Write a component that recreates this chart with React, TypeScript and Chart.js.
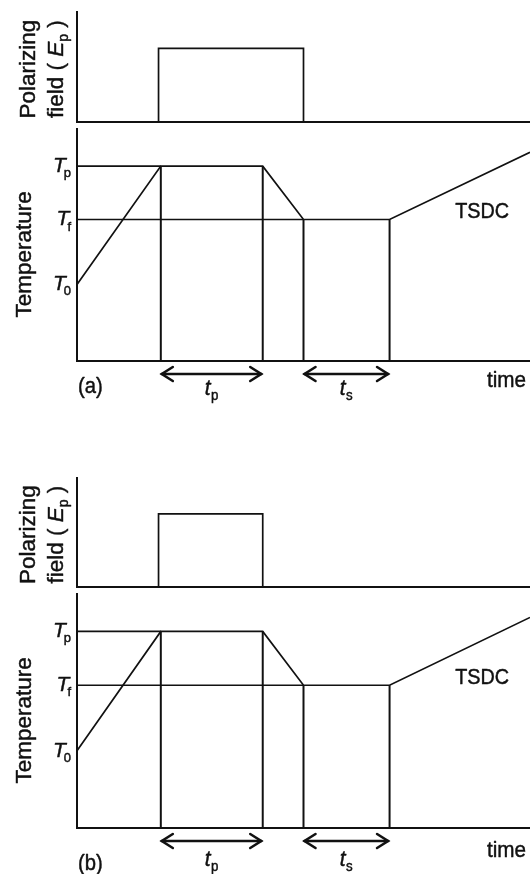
import React, { useEffect, useRef } from "react";
import { Chart, registerables } from "chart.js";

Chart.register(...registerables);

// Time axis in arbitrary units
const timeRange = [0, 100];
// Temperature programme: heat to Tp, hold, cool to Tf, hold, then TSDC heating ramp
const profileTimes = [0, 18.5, 41, 50, 69, 100];
const profileTemps = [33, 84, 84, 61, 61, 90];
// Levels labelled on the temperature axis
const tempLevels = [84, 61, 33];
const tempLevelSubs = ["p", "f", "0"];
// Horizontal guide lines drawn from the axis at Tp and Tf
const guideLevels = [84, 61];
const guideEnds = [18.5, 50];
// Instants marked by vertical drop lines
const dropTimes = [18.5, 41, 50, 69];
const dropTemps = [84, 84, 61, 61];
// Polarizing field pulse, figure (a) and figure (b)
const fieldTimesA = [18, 18, 50, 50];
const fieldTimesB = [18, 18, 41, 41];
const fieldValues = [0, 67, 67, 0];
// Interval arrows under the time axis
const intervalStarts = [18.5, 50];
const intervalEnds = [41, 69];
const intervalSubs = ["p", "s"];

const FONT = '"Liberation Sans", Arial, Helvetica, sans-serif';
const INK = "#111";

type Part = { t: string; it?: boolean; sub?: boolean; dx?: number };

function drawRich(
  ctx: CanvasRenderingContext2D,
  parts: Part[],
  x: number,
  y: number,
  size: number,
  align: "left" | "right" | "center",
  sx = 1,
  subSize = Math.round(size * 0.64)
) {
  const fontOf = (p: Part) =>
    `${p.it ? "italic " : ""}${p.sub ? subSize : size}px ${FONT}`;
  let w = 0;
  const widths = parts.map((p) => {
    ctx.font = fontOf(p);
    const m = ctx.measureText(p.t).width + (p.dx || 0);
    w += m;
    return m;
  });
  ctx.save();
  ctx.translate(x, y);
  ctx.scale(sx, 1);
  ctx.fillStyle = INK;
  ctx.strokeStyle = INK;
  ctx.lineWidth = 0.45;
  ctx.lineJoin = "round";
  ctx.textAlign = "left";
  ctx.textBaseline = "alphabetic";
  let cx = align === "left" ? 0 : align === "right" ? -w : -w / 2;
  parts.forEach((p, i) => {
    ctx.font = fontOf(p);
    const tx = cx + (p.dx || 0);
    const ty = p.sub ? size * 0.24 : 0;
    ctx.fillText(p.t, tx, ty);
    ctx.strokeText(p.t, tx, ty);
    cx += widths[i];
  });
  ctx.restore();
}

function drawRotated(
  ctx: CanvasRenderingContext2D,
  parts: Part[],
  baselineX: number,
  centerY: number,
  size: number
) {
  ctx.save();
  ctx.translate(baselineX, centerY);
  ctx.rotate(-Math.PI / 2);
  drawRich(ctx, parts, 0, 0, size, "center");
  ctx.restore();
}

function drawDoubleArrow(ctx: CanvasRenderingContext2D, x1: number, x2: number, y: number) {
  const head = 11;
  const half = 7;
  ctx.save();
  ctx.strokeStyle = INK;
  ctx.lineWidth = 2.6;
  ctx.lineCap = "round";
  ctx.lineJoin = "miter";
  ctx.beginPath();
  ctx.moveTo(x1, y);
  ctx.lineTo(x2, y);
  ctx.stroke();
  ctx.beginPath();
  ctx.moveTo(x1 + head, y - half);
  ctx.lineTo(x1, y);
  ctx.lineTo(x1 + head, y + half);
  ctx.moveTo(x2 - head, y - half);
  ctx.lineTo(x2, y);
  ctx.lineTo(x2 - head, y + half);
  ctx.stroke();
  ctx.restore();
}

type Panel = {
  kind: "field" | "temp";
  fig: string;
  top: number;
  height: number;
  padTop: number;
  xAxisH: number;
  fieldTimes?: number[];
  arrowY?: number;
  subBase?: number;
  timeBase?: number;
  figBase?: number;
};

const PANELS: Panel[] = [
  { kind: "field", fig: "a", top: 0, height: 130, padTop: 12, xAxisH: 8, fieldTimes: fieldTimesA },
  { kind: "temp", fig: "a", top: 122, height: 300, padTop: 7, xAxisH: 61, arrowY: 13, subBase: 34, timeBase: 26, figBase: 32 },
  { kind: "field", fig: "b", top: 466, height: 129, padTop: 12, xAxisH: 8, fieldTimes: fieldTimesB },
  { kind: "temp", fig: "b", top: 587, height: 287, padTop: 7, xAxisH: 46, arrowY: 13, subBase: 38, timeBase: 29, figBase: 42 },
];

const lineStyle = {
  showLine: true,
  borderColor: INK,
  borderWidth: 1.7,
  pointRadius: 0,
  fill: false,
  tension: 0,
};

function buildChart(canvas: HTMLCanvasElement, p: Panel) {
  const datasets: any[] = [];
  if (p.kind === "field") {
    const times = p.fieldTimes || [];
    datasets.push({
      ...lineStyle,
      data: times.map((t, i) => ({ x: t, y: fieldValues[i] })),
    });
  } else {
    datasets.push({
      ...lineStyle,
      data: profileTimes.map((t, i) => ({ x: t, y: profileTemps[i] })),
    });
    guideLevels.forEach((lvl, i) => {
      datasets.push({
        ...lineStyle,
        data: [
          { x: timeRange[0], y: lvl },
          { x: guideEnds[i], y: lvl },
        ],
      });
    });
    dropTimes.forEach((t, i) => {
      datasets.push({
        ...lineStyle,
        borderWidth: 2,
        data: [
          { x: t, y: 0 },
          { x: t, y: dropTemps[i] },
        ],
      });
    });
  }

  const labels = {
    id: "figureLabels",
    afterDraw(chart: any) {
      const ctx: CanvasRenderingContext2D = chart.ctx;
      const area = chart.chartArea;
      const xs = chart.scales.x;
      const ys = chart.scales.y;
      if (p.kind === "field") {
        const cy = ys.getPixelForValue(48);
        drawRotated(ctx, [{ t: "Polarizing" }], 35, cy, 22.5);
        drawRotated(
          ctx,
          [{ t: "field ( " }, { t: "E", it: true }, { t: "p", sub: true }, { t: " )" }],
          63,
          cy,
          22.5
        );
        return;
      }
      drawRotated(ctx, [{ t: "Temperature" }], 31, ys.getPixelForValue(46), 22.5);

      tempLevels.forEach((lvl, i) => {
        drawRich(
          ctx,
          [{ t: "T", it: true }, { t: tempLevelSubs[i], sub: true, dx: -2 }],
          71,
          ys.getPixelForValue(lvl) + 6,
          21,
          "right",
          1,
          13
        );
      });

      drawRich(ctx, [{ t: "TSDC" }], xs.getPixelForValue(83.5), ys.getPixelForValue(61.5), 22, "left", 0.9);

      const ay = area.bottom + (p.arrowY || 0);
      intervalStarts.forEach((s, i) => {
        const x1 = xs.getPixelForValue(s) + 1;
        const x2 = xs.getPixelForValue(intervalEnds[i]) - 1.5;
        drawDoubleArrow(ctx, x1, x2, ay);
        drawRich(
          ctx,
          [{ t: "t", it: true }, { t: intervalSubs[i], sub: true, dx: 0.5 }],
          (x1 + x2) / 2,
          area.bottom + (p.subBase || 0),
          22,
          "center",
          0.95,
          14
        );
      });

      drawRich(ctx, [{ t: "time" }], area.right - 43, area.bottom + (p.timeBase || 0), 22.5, "left", 0.92);
      drawRich(ctx, [{ t: `(${p.fig})` }], area.left + 1, area.bottom + (p.figBase || 0), 22, "left", 0.92);
    },
  };

  const border = { display: true, color: INK, width: 2 };

  return new Chart(canvas, {
    type: "scatter",
    data: { datasets },
    plugins: [labels],
    options: {
      animation: false,
      responsive: false,
      maintainAspectRatio: false,
      events: [],
      layout: { padding: { top: p.padTop, left: 0, right: 0, bottom: 0 } },
      plugins: {
        legend: { display: false },
        tooltip: { enabled: false },
        title: { display: false },
      },
      scales: {
        x: {
          type: "linear",
          min: timeRange[0],
          max: timeRange[1],
          ticks: { display: false },
          grid: { display: false, drawTicks: false },
          border,
          afterFit: (s: any) => {
            s.height = p.xAxisH;
          },
        },
        y: {
          type: "linear",
          min: 0,
          max: 100,
          ticks: { display: false },
          grid: { display: false, drawTicks: false },
          border,
          afterFit: (s: any) => {
            s.width = 77;
          },
        },
      },
    } as any,
  });
}

export default function App() {
  const r0 = useRef<HTMLCanvasElement>(null);
  const r1 = useRef<HTMLCanvasElement>(null);
  const r2 = useRef<HTMLCanvasElement>(null);
  const r3 = useRef<HTMLCanvasElement>(null);
  const refs = [r0, r1, r2, r3];

  useEffect(() => {
    const charts = PANELS.map((p, i) => buildChart(refs[i].current as HTMLCanvasElement, p));
    return () => charts.forEach((c) => c.destroy());
  }, []);

  return (
    <div
      style={{
        position: "absolute",
        left: 0,
        top: 0,
        width: 530,
        height: 874,
        overflow: "hidden",
        background: "#fff",
      }}
    >
      {PANELS.map((p, i) => (
        <canvas
          key={i}
          ref={refs[i]}
          width={530}
          height={p.height}
          style={{ position: "absolute", left: 0, top: p.top, width: 530, height: p.height }}
        />
      ))}
    </div>
  );
}
